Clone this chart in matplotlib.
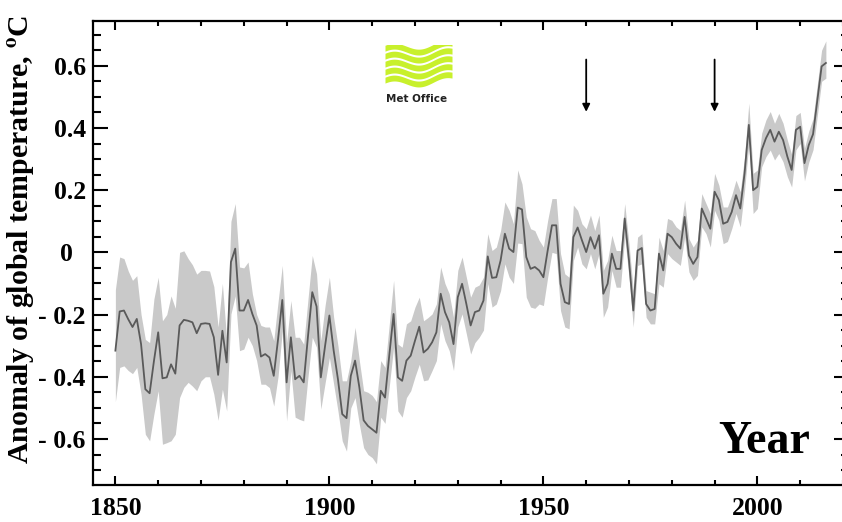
import numpy as np
import matplotlib
matplotlib.use("Agg")
import matplotlib.pyplot as plt
from matplotlib.ticker import MultipleLocator, FixedLocator

plt.rcParams["mathtext.fontset"] = "stix"

# annual global temperature anomaly (deg C) with its uncertainty range
years = np.arange(1850, 2017)

anomaly = [
    -0.316, -0.19, -0.187, -0.215, -0.24, -0.214, -0.295, -0.44, -0.453, -0.35,
    -0.257, -0.405, -0.402, -0.36, -0.39, -0.235, -0.217, -0.22, -0.225, -0.26,
    -0.23, -0.228, -0.23, -0.273, -0.394, -0.252, -0.354, -0.031, 0.012, -0.187,
    -0.187, -0.153, -0.198, -0.235, -0.335, -0.327, -0.338, -0.397, -0.28, -0.153,
    -0.418, -0.273, -0.408, -0.397, -0.418, -0.27, -0.128, -0.174, -0.402, -0.30,
    -0.203, -0.316, -0.408, -0.52, -0.533, -0.397, -0.348, -0.434, -0.54, -0.558,
    -0.569, -0.58, -0.445, -0.467, -0.33, -0.198, -0.402, -0.413, -0.348, -0.332,
    -0.284, -0.239, -0.322, -0.31, -0.289, -0.257, -0.133, -0.192, -0.225, -0.295,
    -0.144, -0.101, -0.166, -0.235, -0.192, -0.187, -0.155, -0.013, -0.082, -0.08,
    -0.026, 0.06, 0.012, 0.001, 0.144, 0.138, -0.015, -0.053, -0.047, -0.058,
    -0.08, 0.006, 0.087, 0.087, -0.101, -0.16, -0.166, 0.049, 0.08, 0.039,
    0.001, 0.049, 0.012, 0.055, -0.133, -0.101, -0.004, -0.053, -0.053, 0.109,
    -0.026, -0.187, 0.006, 0.014, -0.166, -0.187, -0.182, -0.004, -0.058, 0.06,
    0.049, 0.028, 0.012, 0.114, -0.01, -0.037, -0.015, 0.141, 0.109, 0.076,
    0.195, 0.168, 0.092, 0.098, 0.13, 0.184, 0.141, 0.254, 0.41, 0.20,
    0.211, 0.329, 0.367, 0.394, 0.356, 0.388, 0.361, 0.308, 0.265, 0.394,
    0.404, 0.287, 0.345, 0.38, 0.49, 0.598, 0.609,
]

upper = [
    -0.12, -0.015, -0.02, -0.06, -0.09, -0.075, -0.20, -0.28, -0.29, -0.15,
    -0.08, -0.22, -0.20, -0.14, -0.18, 0.0, 0.005, -0.02, -0.04, -0.07,
    -0.058, -0.058, -0.06, -0.11, -0.24, -0.10, -0.28, 0.10, 0.157, -0.047,
    -0.05, -0.031, -0.133, -0.20, -0.235, -0.24, -0.24, -0.284, -0.16, -0.042,
    -0.29, -0.155, -0.273, -0.273, -0.295, -0.15, -0.01, -0.069, -0.284, -0.17,
    -0.08, -0.209, -0.30, -0.413, -0.413, -0.348, -0.241, -0.348, -0.445, -0.45,
    -0.46, -0.48, -0.348, -0.37, -0.23, -0.09, -0.295, -0.305, -0.23, -0.22,
    -0.176, -0.144, -0.22, -0.21, -0.198, -0.166, -0.047, -0.10, -0.133, -0.209,
    -0.058, -0.015, -0.08, -0.144, -0.112, -0.105, -0.08, 0.06, 0.006, 0.017,
    0.07, 0.162, 0.135, 0.092, 0.265, 0.22, 0.114, 0.076, 0.07, 0.039,
    0.017, 0.103, 0.173, 0.173, -0.004, -0.069, -0.08, 0.152, 0.135, 0.092,
    0.076, 0.12, 0.07, 0.12, -0.058, -0.026, 0.055, 0.006, 0.006, 0.157,
    0.028, -0.123, 0.049, 0.06, -0.123, -0.128, -0.133, 0.049, 0.006, 0.109,
    0.103, 0.082, 0.071, 0.168, 0.044, 0.017, 0.039, 0.189, 0.157, 0.125,
    0.254, 0.216, 0.146, 0.146, 0.184, 0.232, 0.195, 0.308, 0.48, 0.254,
    0.265, 0.383, 0.426, 0.453, 0.415, 0.447, 0.415, 0.361, 0.315, 0.44,
    0.45, 0.335, 0.39, 0.43, 0.54, 0.65, 0.68,
]

lower = [
    -0.48, -0.37, -0.365, -0.38, -0.39, -0.37, -0.456, -0.585, -0.606, -0.52,
    -0.445, -0.617, -0.612, -0.606, -0.585, -0.467, -0.434, -0.418, -0.43, -0.445,
    -0.413, -0.40, -0.40, -0.456, -0.54, -0.44, -0.51, -0.198, -0.14, -0.316,
    -0.311, -0.273, -0.30, -0.348, -0.424, -0.424, -0.435, -0.494, -0.40, -0.252,
    -0.542, -0.38, -0.53, -0.537, -0.542, -0.40, -0.273, -0.305, -0.504, -0.42,
    -0.338, -0.424, -0.51, -0.606, -0.639, -0.50, -0.467, -0.553, -0.628, -0.65,
    -0.66, -0.68, -0.53, -0.55, -0.43, -0.305, -0.51, -0.53, -0.467, -0.445,
    -0.40, -0.36, -0.413, -0.41, -0.38, -0.348, -0.23, -0.284, -0.316, -0.38,
    -0.24, -0.198, -0.262, -0.327, -0.29, -0.273, -0.25, -0.10, -0.176, -0.166,
    -0.123, -0.037, -0.08, -0.10, 0.03, 0.028, -0.144, -0.176, -0.18, -0.166,
    -0.171, -0.08, 0.0, -0.004, -0.187, -0.24, -0.246, -0.026, 0.017, -0.037,
    -0.053, -0.004, -0.053, -0.004, -0.209, -0.176, -0.058, -0.112, -0.112, 0.049,
    -0.08, -0.24, -0.042, -0.037, -0.209, -0.23, -0.23, -0.101, -0.112, -0.004,
    -0.02, -0.031, -0.042, 0.049, -0.063, -0.09, -0.074, 0.082, 0.06, 0.017,
    0.135, 0.103, 0.028, 0.035, 0.076, 0.125, 0.082, 0.20, 0.35, 0.125,
    0.141, 0.275, 0.308, 0.329, 0.297, 0.318, 0.291, 0.243, 0.21, 0.33,
    0.35, 0.23, 0.29, 0.33, 0.44, 0.55, 0.56,
]

year_ticks = [1850, 1900, 1950, 2000]
temp_ticks = [-0.6, -0.4, -0.2, 0, 0.2, 0.4, 0.6]
temp_labels = ["- 0.6", "- 0.4", "- 0.2", "0  ", "0.2", "0.4", "0.6"]
marked_years = [1960, 1990]

serif = "Liberation Serif"

fig = plt.figure(figsize=(8.42, 5.22), dpi=100)
ax = fig.add_axes([0.1101, 0.0709, 0.8977, 0.8895])

ax.fill_between(years, lower, upper, color="#c9c9c9", lw=0)
ax.plot(years, anomaly, color="#5a5a5a", lw=1.3)

ax.set_xlim(1844.7, 2021.3)
ax.set_ylim(-0.748, 0.745)

for s in ax.spines.values():
    s.set_linewidth(1.6)

ax.xaxis.set_major_locator(FixedLocator(year_ticks))
ax.xaxis.set_minor_locator(MultipleLocator(10))
ax.yaxis.set_major_locator(FixedLocator(temp_ticks))
ax.yaxis.set_minor_locator(MultipleLocator(0.05))
ax.set_yticklabels(temp_labels)

ax.tick_params(axis="both", which="both", direction="in", top=True, right=True,
               width=1.5, colors="black")
ax.tick_params(axis="y", which="major", length=11, pad=5)
ax.tick_params(axis="y", which="minor", length=6)
ax.tick_params(axis="x", which="major", length=6.5, pad=9)
ax.tick_params(axis="x", which="minor", length=3.5)

for lab in ax.get_xticklabels() + ax.get_yticklabels():
    lab.set_fontfamily(serif)
    lab.set_fontweight("bold")
    lab.set_fontsize(18.5)

ax.set_ylabel(r"Anomaly of global temperature, $^{\mathbf{o}}$C",
              fontfamily=serif, fontweight="bold", fontsize=21.5)
ax.yaxis.set_label_coords(-0.075, 0.528)

ax.text(0.949, 0.069, "Year", transform=ax.transAxes, ha="right", va="baseline",
        fontfamily=serif, fontweight="bold", fontsize=33)

# arrows over the chart
for yr in marked_years:
    ax.annotate("", xy=(yr, 0.452), xytext=(yr, 0.62),
                arrowprops=dict(arrowstyle="-|>", color="black", lw=1.3,
                                mutation_scale=11, shrinkA=0, shrinkB=0))

# Met Office wave logo
logo = fig.add_axes([385 / 842, 1 - 87 / 522, 67 / 842, 42 / 522])
logo.set_xlim(0, 1)
logo.set_ylim(0, 1)
logo.axis("off")
t = np.linspace(0, 1, 200)
wave = 0.09 * np.sin(2 * np.pi * (t * 1.25 + 0.1))
for k in range(5):
    base = 0.04 + k * 0.19 + 0.1 * t
    logo.fill_between(t, base + wave, base + wave + 0.14, color="#c8f02c", lw=0)
fig.text(417 / 842, 1 - 99 / 522, "Met Office", ha="center", va="center",
         fontfamily="DejaVu Sans", fontweight="bold", fontsize=7.5, color="#222222")

fig.savefig("out.png", dpi=100)
